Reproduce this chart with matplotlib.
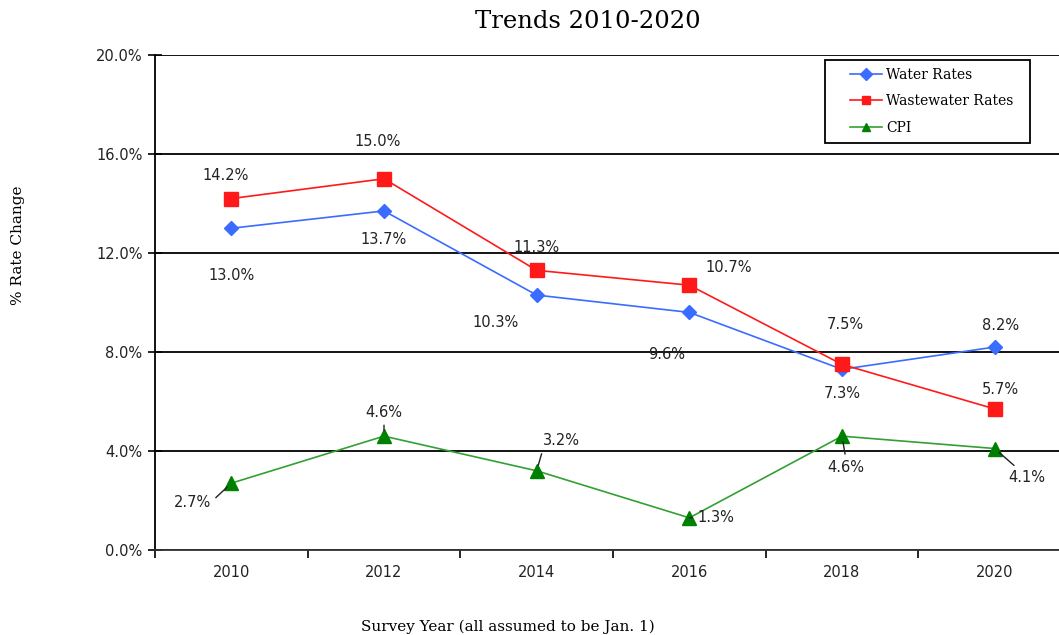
import matplotlib.pyplot as plt
import numpy as np
from matplotlib.patches import Rectangle
from matplotlib.ticker import FixedLocator, PercentFormatter

years = ["2010", "2012", "2014", "2016", "2018", "2020"]
water = [13.0, 13.7, 10.3, 9.6, 7.3, 8.2]
wastewater = [14.2, 15.0, 11.3, 10.7, 7.5, 5.7]
cpi = [2.7, 4.6, 3.2, 1.3, 4.6, 4.1]

# label offsets in pixels (dx, dy), dy positive = up
water_off = [(0, -47), (0, -29), (-41, -27), (-23, -42), (0, -24), (6, 22)]
waste_off = [(-6, 23), (-6, 37), (0, 23), (39, 18), (3, 40), (6, 19)]
cpi_off = [(-39, -19), (0, 24), (25, 30), (27, 0), (4, -31), (32, -29)]
cpi_rel = [(1, 0.5), (0.5, 0), (0, 0), (0, 0.5), (0.5, 1), (0.3, 1)]

W, H = 1059, 635
fig = plt.figure(figsize=(W / 100, H / 100), dpi=100)
ax = fig.add_axes([155 / W, 1 - 550 / H, (1071 - 155) / W, 495 / H])

x = np.arange(len(years))
ax.plot(x, water, color="#3a6cff", lw=1.2, marker="D", ms=7,
        label="Water Rates", zorder=3)
ax.plot(x, wastewater, color="#ff1a1a", lw=1.2, marker="s", ms=10,
        label="Wastewater Rates", zorder=3)
ax.plot(x, cpi, color="#33a033", lw=1.2, marker="^", ms=10,
        mfc="#008000", mec="#008000", label="CPI", zorder=3)

lab_font = dict(fontsize=10.5, family="DejaVu Sans", color="#222222")

for i in range(len(years)):
    ax.annotate(f"{water[i]:.1f}%", (x[i], water[i]), xytext=water_off[i],
                textcoords="offset pixels", ha="center", va="center", **lab_font)
    ax.annotate(f"{wastewater[i]:.1f}%", (x[i], wastewater[i]), xytext=waste_off[i],
                textcoords="offset pixels", ha="center", va="center", **lab_font)
    ax.annotate(f"{cpi[i]:.1f}%", (x[i], cpi[i]), xytext=cpi_off[i],
                textcoords="offset pixels", ha="center", va="center",
                arrowprops=dict(arrowstyle="-", color="#222222", lw=1,
                                relpos=cpi_rel[i], shrinkA=2, shrinkB=4),
                **lab_font)

ax.set_xlim(-0.5, 5.5)
ax.set_ylim(0, 20)
ax.set_xticks(x)
ax.set_xticklabels(years)
ax.xaxis.set_minor_locator(FixedLocator(np.arange(-0.5, 6.0, 1.0)))
ax.tick_params(axis="x", which="major", length=0, pad=11, labelsize=10.5)
ax.tick_params(axis="x", which="minor", length=6, width=1.2, direction="out")
ax.set_yticks(np.arange(0, 21, 4))
ax.yaxis.set_major_formatter(PercentFormatter(decimals=1))
ax.tick_params(axis="y", length=10, width=1.2, direction="inout", labelsize=10.5, pad=4)
for lbl in ax.get_xticklabels() + ax.get_yticklabels():
    lbl.set_color("#222222")

ax.grid(axis="y", color="black", lw=1.3)
ax.set_axisbelow(True)
for s in ["top", "right"]:
    ax.spines[s].set_visible(False)
ax.spines["left"].set_linewidth(1.3)
ax.spines["bottom"].set_linewidth(1.3)
ax.spines["bottom"].set_color("#333333")

# legend with hand-placed frame
leg = ax.legend(loc="upper left", bbox_to_anchor=(847 / W, 1 - 65 / H),
                bbox_transform=fig.transFigure, frameon=False,
                prop=dict(family="DejaVu Serif", size=10), handlelength=2.3,
                labelspacing=0.9, borderpad=0.2, handletextpad=0.3,
                borderaxespad=0)
for h in leg.legend_handles:
    h.set_markersize(6)
fig.patches.append(Rectangle((825 / W, 1 - 143 / H), 205 / W, 83 / H,
                             transform=fig.transFigure, fill=False,
                             edgecolor="black", lw=1.3, zorder=5))

fig.text(588 / W, 1 - 22 / H, "Trends 2010-2020", ha="center", va="center",
         family="DejaVu Serif", fontsize=17.5)
fig.text(508 / W, 1 - 627 / H, "Survey Year (all assumed to be Jan. 1)",
         ha="center", va="center", family="DejaVu Serif", fontsize=11)
fig.text(18 / W, 1 - 245 / H, "% Rate Change", ha="center", va="center",
         rotation=90, family="DejaVu Serif", fontsize=11)

fig.savefig("out.png", dpi=100, facecolor="white")
